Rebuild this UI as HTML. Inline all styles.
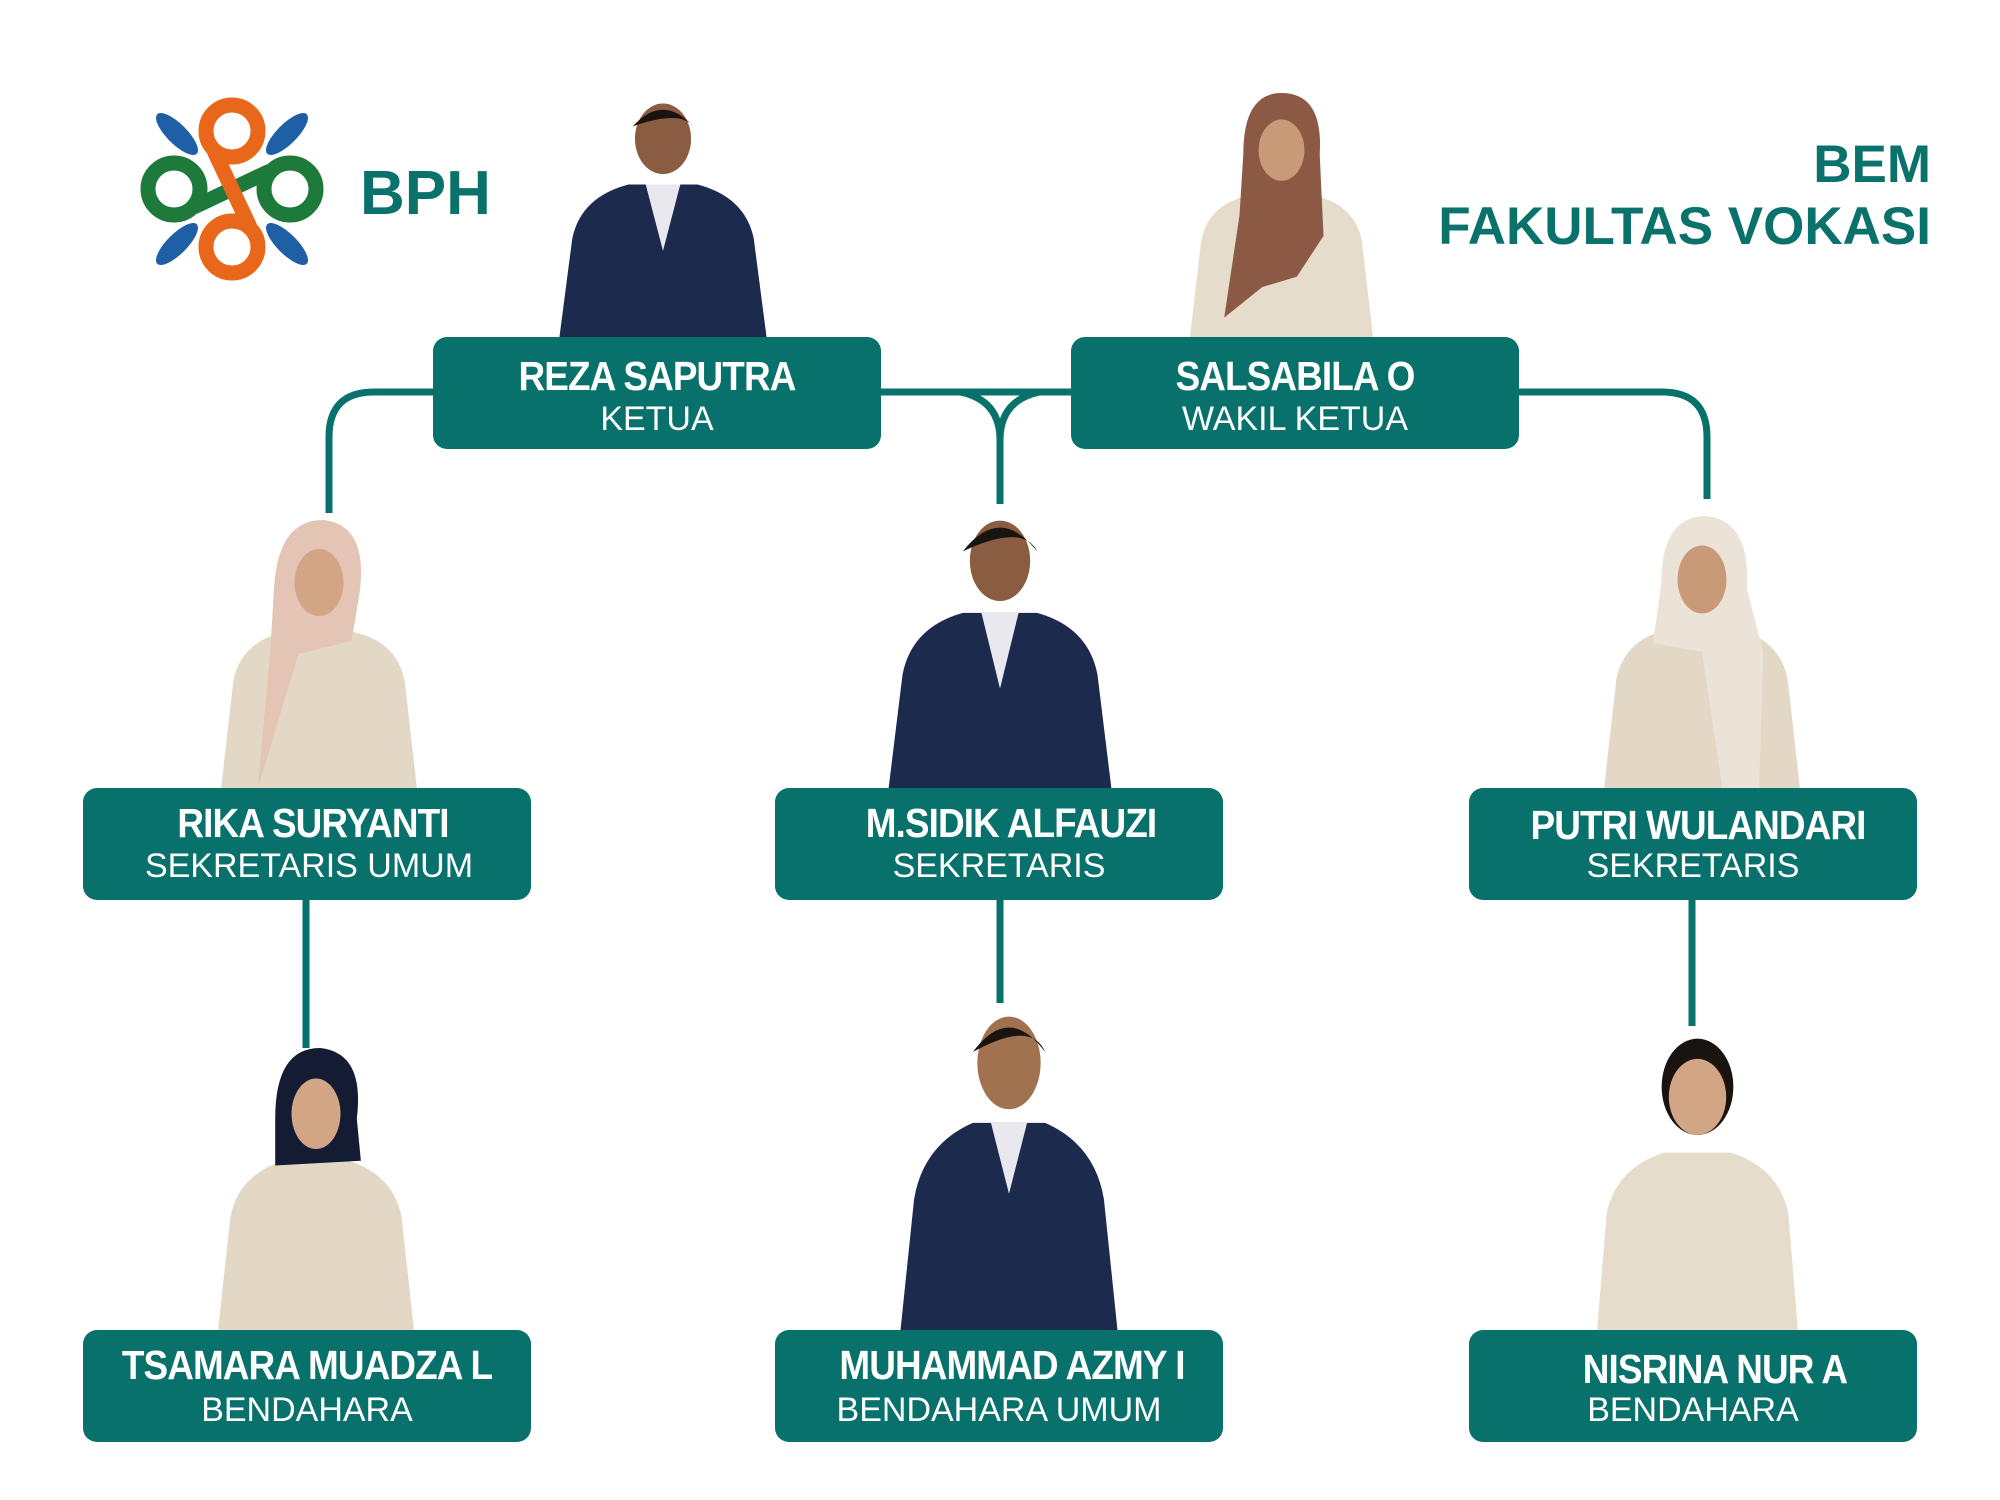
<!DOCTYPE html>
<html><head><meta charset="utf-8"><style>
html,body{margin:0;padding:0;background:#fff;}
body{width:2000px;height:1500px;position:relative;overflow:hidden;font-family:"Liberation Sans",sans-serif;}
.box{position:absolute;background:#08716b;border-radius:14px;width:448px;height:112px;color:#fff;}
.nm{position:absolute;left:0;right:0;text-align:center;font-weight:bold;font-size:41px;letter-spacing:-1px;line-height:1;transform:scaleX(0.9);}
.rl{position:absolute;left:0;right:0;text-align:center;font-size:34px;line-height:1;}
.ph{position:absolute;}
.t{position:absolute;color:#0b716b;font-weight:bold;}
</style></head><body>
<svg width="2000" height="1500" style="position:absolute;left:0;top:0">
<g fill="none" stroke="#08716b" stroke-width="7">
<path d="M433,392 H374 Q329,392 329,437 V513"/>
<path d="M1519,392 H1662 Q1707,392 1707,437 V499"/>
<path d="M881,392 H1071"/>
<path d="M960,392 Q1000,400 1000,440 V504 M1040,392 Q1000,400 1000,440"/>
<path d="M306,898 V1048 M1000,898 V1003 M1692,898 V1026"/>
</g>
<g transform="translate(232,189)">
<g fill="#1f5fa6">
<ellipse cx="-55" cy="-55" rx="28" ry="10" transform="rotate(45 -55 -55)"/>
<ellipse cx="55" cy="-55" rx="28" ry="10" transform="rotate(-45 55 -55)"/>
<ellipse cx="-55" cy="55" rx="28" ry="10" transform="rotate(-45 -55 55)"/>
<ellipse cx="55" cy="55" rx="28" ry="10" transform="rotate(45 55 55)"/>
</g>
<g fill="none" stroke-width="15">
<circle cx="-58" cy="0" r="26" stroke="#1e7a3a"/>
<circle cx="58" cy="0" r="26" stroke="#1e7a3a"/>
<path d="M-38,18 L38,-18" stroke="#1e7a3a"/>
<circle cx="0" cy="-58" r="26" stroke="#e8671a"/>
<circle cx="0" cy="58" r="26" stroke="#e8671a"/>
<path d="M-18,-38 L18,38" stroke="#e8671a"/>
</g>
</g>
</svg>
<div class="t" style="left:360px;top:158px;font-size:62px;">BPH</div>
<div class="t" style="right:69px;top:134px;font-size:53px;text-align:right;line-height:62px;">BEM<br>FAKULTAS VOKASI</div>

<svg class="ph" style="left:555px;top:89px" width="216" height="249" viewBox="0 0 100 120" preserveAspectRatio="none">
<path d="M2,120 L8,72 Q12,52 34,46 L66,46 Q88,52 92,72 L98,120Z" fill="#1c2a4e"/><path d="M42,46 L50,78 L58,46Z" fill="#e8e8ee"/>
<ellipse cx="50" cy="24" rx="13" ry="17" fill="#8a5d42"/><path d="M36,18 Q50,2 64,18 Q58,10 36,18Z" fill="#1a1410"/></svg>
<svg class="ph" style="left:1186px;top:93px" width="191" height="245" viewBox="0 0 100 120" preserveAspectRatio="none">
<path d="M2,120 L8,72 Q12,54 34,50 L66,50 Q88,54 92,72 L98,120Z" fill="#e6dccb"/>
<path d="M30,30 Q30,0 50,0 Q72,0 70,30 L72,70 L58,90 L40,95 L20,110 L28,60Z" fill="#8c5a44"/>
<ellipse cx="50" cy="28" rx="12" ry="15" fill="#c99a78"/></svg>
<svg class="ph" style="left:217px;top:520px" width="204" height="268" viewBox="0 0 100 120" preserveAspectRatio="none">
<path d="M2,120 L8,72 Q12,54 34,50 L66,50 Q88,54 92,72 L98,120Z" fill="#e3d8c6"/>
<path d="M28,30 Q30,0 52,0 Q74,2 70,32 L66,54 L40,60 L20,120 L26,60Z" fill="#e4c4b4"/>
<ellipse cx="50" cy="28" rx="12" ry="15" fill="#d2a584"/></svg>
<svg class="ph" style="left:884px;top:504px" width="232" height="284" viewBox="0 0 100 120" preserveAspectRatio="none">
<path d="M2,120 L8,72 Q12,52 34,46 L66,46 Q88,52 92,72 L98,120Z" fill="#1c2a4e"/><path d="M42,46 L50,78 L58,46Z" fill="#e8e8ee"/>
<ellipse cx="50" cy="24" rx="13" ry="17" fill="#8a5d42"/><path d="M34,20 Q50,0 66,20 Q60,8 34,20Z" fill="#1a1410"/></svg>
<svg class="ph" style="left:1600px;top:516px" width="204" height="272" viewBox="0 0 100 120" preserveAspectRatio="none">
<path d="M2,120 L8,72 Q12,54 34,50 L66,50 Q88,54 92,72 L98,120Z" fill="#e3d8c6"/>
<path d="M30,30 Q30,0 52,0 Q74,2 72,32 L80,60 L78,120 L60,120 L50,60 L26,56Z" fill="#ebe3d8"/>
<ellipse cx="50" cy="28" rx="12" ry="15" fill="#c99a78"/></svg>
<svg class="ph" style="left:214px;top:1048px" width="204" height="282" viewBox="0 0 100 120" preserveAspectRatio="none">
<path d="M2,120 L8,72 Q12,54 34,48 L66,48 Q88,54 92,72 L98,120Z" fill="#e3d8c6"/>
<path d="M30,30 Q30,0 52,0 Q74,2 70,30 L72,48 L30,50Z" fill="#141c34"/>
<ellipse cx="50" cy="28" rx="12" ry="15" fill="#d2a584"/></svg>
<svg class="ph" style="left:896px;top:1003px" width="226" height="327" viewBox="0 0 100 120" preserveAspectRatio="none">
<path d="M2,120 L8,72 Q12,52 34,44 L66,44 Q88,52 92,72 L98,120Z" fill="#1c2a4e"/><path d="M42,44 L50,70 L58,44Z" fill="#e8e8ee"/>
<ellipse cx="50" cy="22" rx="14" ry="17" fill="#a0724f"/><path d="M34,18 Q50,0 66,18 Q60,6 34,18Z" fill="#1a1410"/></svg>
<svg class="ph" style="left:1578px;top:1026px" width="239" height="304" viewBox="0 0 100 120" preserveAspectRatio="none">
<path d="M8,120 L12,74 Q16,56 36,50 L64,50 Q84,56 88,74 L92,120Z" fill="#e6dccb"/>
<ellipse cx="50" cy="24" rx="15" ry="19" fill="#1a1410"/>
<ellipse cx="50" cy="28" rx="12" ry="15" fill="#d2a584"/></svg>

<div class="box" style="left:433px;top:337px"><div class="nm" style="top:19px">REZA SAPUTRA</div><div class="rl" style="top:65px">KETUA</div></div>
<div class="box" style="left:1071px;top:337px"><div class="nm" style="top:19px">SALSABILA O</div><div class="rl" style="top:65px">WAKIL KETUA</div></div>
<div class="box" style="left:83px;top:788px"><div class="nm" style="top:15px;left:12px">RIKA SURYANTI</div><div class="rl" style="top:61px;left:4px">SEKRETARIS UMUM</div></div>
<div class="box" style="left:775px;top:788px"><div class="nm" style="top:15px;left:24px">M.SIDIK ALFAUZI</div><div class="rl" style="top:61px">SEKRETARIS</div></div>
<div class="box" style="left:1469px;top:788px"><div class="nm" style="top:17px;left:10px">PUTRI WULANDARI</div><div class="rl" style="top:61px">SEKRETARIS</div></div>
<div class="box" style="left:83px;top:1330px"><div class="nm" style="top:15px">TSAMARA MUADZA L</div><div class="rl" style="top:63px">BENDAHARA</div></div>
<div class="box" style="left:775px;top:1330px"><div class="nm" style="top:15px;left:26px">MUHAMMAD AZMY I</div><div class="rl" style="top:63px">BENDAHARA UMUM</div></div>
<div class="box" style="left:1469px;top:1330px"><div class="nm" style="top:19px;left:44px">NISRINA NUR A</div><div class="rl" style="top:63px">BENDAHARA</div></div>
</body></html>
